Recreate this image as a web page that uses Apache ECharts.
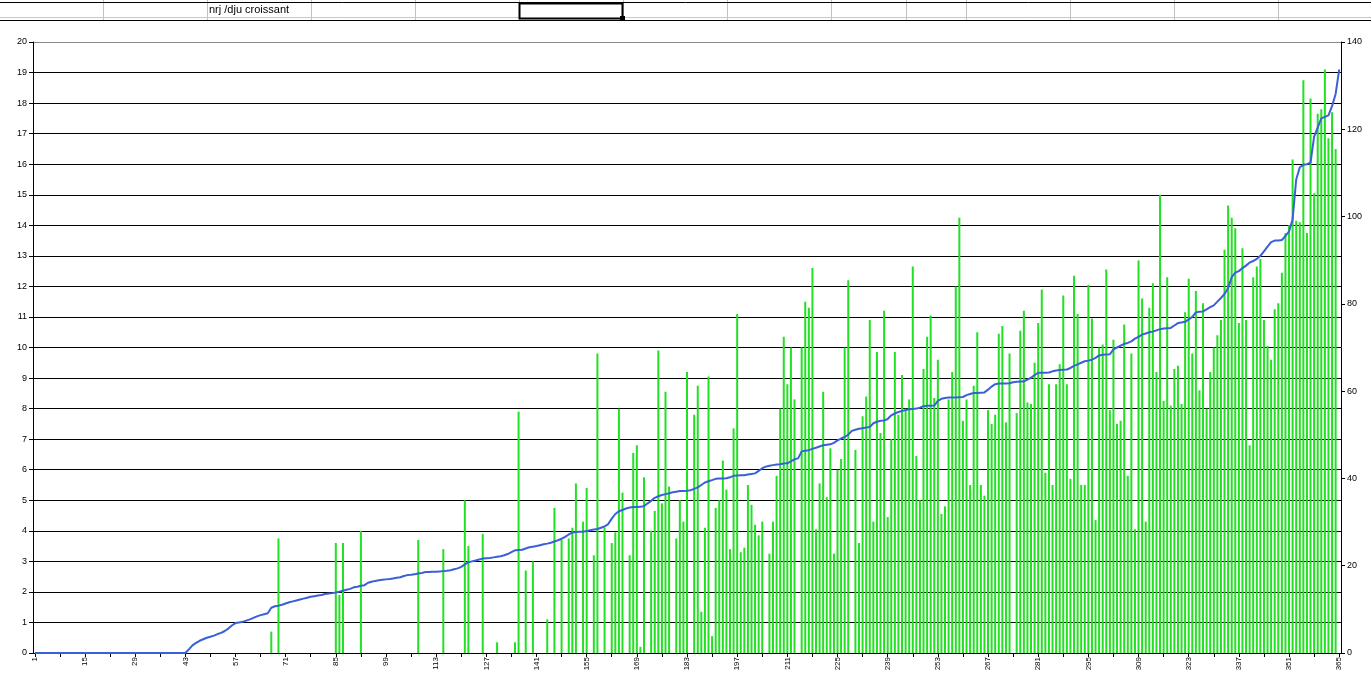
<!DOCTYPE html>
<html>
<head>
<meta charset="utf-8">
<script src="https://cdn.jsdelivr.net/npm/echarts@6/dist/echarts.min.js"></script>
<style>
html,body{margin:0;padding:0;background:#fff;}
#chart{width:1371px;height:688px;}
</style>
</head>
<body>
<div id="chart"></div>
<script>
// Category labels: days 1..365
const days = Array.from({length: 365}, (_, i) => String(i + 1));

// Green bars (left axis units), one value per day
const barValues = [
  0,0,0,0,0,0,0,0,0,0,
  0,0,0,0,0,0,0,0,0,0,
  0,0,0,0,0,0,0,0,0,0,
  0,0,0,0,0,0,0,0,0,0,
  0,0,0,0,0,0,0,0,0,0,
  0,0,0,0,0,0,0,0,0,0,
  0,0,0,0,0,0,0.7,0,3.75,0,
  0,0,0,0,0,0,0,0,0,0,
  0,0,0,0,3.6,1.9,3.6,0,0,0,
  0,4.0,0,0,0,0,0,0,0,0,
  0,0,0,0,0,0,0,3.7,0,0,
  0,0,0,0,3.4,0,0,0,0,0,
  5.0,3.5,0,0,0,3.9,0,0,0,0.35,
  0,0,0,0,0.35,7.9,0,2.7,0,3.0,
  0,0,0,1.1,0,4.75,0,3.7,0,3.75,
  4.1,5.55,0,4.3,5.4,0,3.2,9.8,0,4.1,
  0,3.6,3.95,8.0,5.25,0,3.2,6.55,6.8,0.2,
  5.75,0,4.0,4.65,9.9,4.9,8.55,5.45,0,3.75,
  5.0,4.3,9.2,0,7.8,8.75,1.35,4.1,9.05,0.55,
  4.75,5.0,6.3,5.35,3.4,7.35,11.1,3.3,3.45,5.5,
  4.85,4.2,3.85,4.3,0,3.25,4.3,5.8,8.0,10.35,
  8.8,10.0,8.3,0,10.0,11.5,11.3,12.6,4.05,5.55,
  8.55,5.1,6.7,3.25,6.0,6.35,10.0,12.2,0,6.65,
  3.6,7.75,8.4,10.9,4.3,9.85,7.2,11.2,4.45,7.0,
  9.85,7.8,9.1,8.0,8.3,12.65,6.45,5.0,9.3,10.35,
  11.05,8.35,9.6,4.55,4.8,8.3,9.2,12.0,14.25,7.6,
  8.3,5.5,8.75,10.5,5.5,5.15,7.95,7.5,7.8,10.45,
  10.7,7.55,9.8,0,7.85,10.55,11.2,8.2,8.15,9.5,
  10.8,11.9,5.9,8.8,5.5,8.8,9.45,11.7,8.8,5.7,
  12.35,11.1,5.5,5.5,12.05,10.95,4.35,10.0,10.1,12.55,
  7.95,10.25,7.5,7.6,10.75,5.8,9.8,4.05,12.85,11.6,
  4.3,11.3,12.1,9.2,15.0,8.25,12.3,8.1,9.3,9.4,
  8.15,11.15,12.25,9.8,11.85,8.6,11.45,8.0,9.2,10.0,
  10.4,10.9,13.2,14.65,14.25,13.9,10.8,13.25,10.9,6.8,
  12.3,12.65,12.9,10.9,10.05,9.6,11.25,11.45,12.45,13.75,
  14.0,16.15,14.15,14.1,18.75,13.75,18.15,15.05,17.65,17.8,
  19.1,16.85,17.7,16.5,0
];

// Blue line "nrj /dju croissant" (left axis units), one value per day
const lineValues = [
  0,0,0,0,0,0,0,0,0,0,
  0,0,0,0,0,0,0,0,0,0,
  0,0,0,0,0,0,0,0,0,0,
  0,0,0,0,0,0,0,0,0,0,
  0,0,0,0.12,0.25,0.33,0.4,0.45,0.5,0.53,
  0.57,0.62,0.66,0.72,0.8,0.9,0.98,1.0,1.02,1.06,
  1.1,1.15,1.2,1.24,1.27,1.3,1.48,1.53,1.55,1.58,
  1.62,1.66,1.69,1.72,1.75,1.78,1.81,1.84,1.86,1.88,
  1.9,1.93,1.95,1.96,1.98,2.01,2.04,2.07,2.1,2.15,
  2.17,2.2,2.22,2.3,2.33,2.36,2.38,2.4,2.41,2.42,
  2.44,2.46,2.48,2.52,2.55,2.56,2.58,2.6,2.62,2.65,
  2.65,2.66,2.66,2.67,2.68,2.69,2.71,2.74,2.77,2.82,
  2.9,2.97,3.0,3.03,3.06,3.09,3.1,3.11,3.13,3.15,
  3.17,3.2,3.24,3.3,3.36,3.37,3.38,3.42,3.46,3.48,
  3.5,3.53,3.56,3.58,3.61,3.65,3.69,3.74,3.8,3.88,
  3.94,3.96,3.97,3.97,3.99,4.02,4.04,4.06,4.1,4.14,
  4.22,4.4,4.55,4.64,4.68,4.73,4.76,4.78,4.78,4.79,
  4.8,4.9,4.98,5.08,5.13,5.17,5.2,5.23,5.26,5.28,
  5.3,5.3,5.31,5.33,5.37,5.42,5.5,5.58,5.62,5.66,
  5.7,5.71,5.71,5.72,5.75,5.8,5.81,5.82,5.82,5.84,
  5.86,5.88,5.96,6.05,6.1,6.13,6.15,6.17,6.18,6.2,
  6.21,6.27,6.34,6.37,6.6,6.62,6.64,6.68,6.72,6.76,
  6.8,6.82,6.83,6.88,6.96,7.02,7.07,7.15,7.27,7.31,
  7.34,7.36,7.38,7.4,7.52,7.57,7.6,7.61,7.66,7.78,
  7.84,7.89,7.92,7.95,7.98,7.99,8.0,8.03,8.08,8.09,
  8.09,8.1,8.25,8.32,8.35,8.36,8.36,8.36,8.37,8.38,
  8.44,8.48,8.51,8.51,8.52,8.53,8.62,8.72,8.8,8.82,
  8.82,8.82,8.83,8.86,8.88,8.89,8.89,8.95,9.01,9.1,
  9.17,9.17,9.17,9.18,9.22,9.25,9.26,9.27,9.28,9.33,
  9.4,9.45,9.5,9.55,9.57,9.6,9.66,9.74,9.76,9.77,
  9.78,9.94,10.0,10.06,10.12,10.15,10.2,10.29,10.35,10.42,
  10.46,10.5,10.52,10.56,10.6,10.62,10.63,10.64,10.72,10.8,
  10.82,10.84,10.92,11.0,11.15,11.17,11.18,11.25,11.32,11.38,
  11.5,11.62,11.75,11.95,12.3,12.45,12.5,12.6,12.68,12.78,
  12.83,12.9,13.0,13.15,13.3,13.45,13.5,13.5,13.52,13.65,
  13.8,14.2,15.5,15.9,15.98,16.0,16.05,16.9,17.2,17.5,
  17.55,17.6,17.9,18.3,19.1
];

// Spreadsheet header
const headerTitle = 'nrj /dju croissant';
const columnEdges = [103.5, 207.5, 311.5, 415.5, 519.5, 623.5, 727.5, 831.5, 906.5, 966.5, 1070.5, 1174.5, 1278.5];

const FONT = '"Liberation Sans", Arial, sans-serif';
const chart = echarts.init(document.getElementById('chart'), null, {renderer: 'canvas'});

const graphics = [];
columnEdges.forEach(x => graphics.push({
  type: 'line', shape: {x1: x, y1: 0, x2: x, y2: 20},
  style: {stroke: '#c0c0c0', lineWidth: 1}, silent: true
}));
graphics.push({type: 'line', shape: {x1: 0, y1: 2.5, x2: 1371, y2: 2.5}, style: {stroke: '#000', lineWidth: 1}});
graphics.push({type: 'line', shape: {x1: 0, y1: 17.5, x2: 1371, y2: 17.5}, style: {stroke: '#c8c8c8', lineWidth: 1}});
graphics.push({type: 'line', shape: {x1: 0, y1: 20.5, x2: 1371, y2: 20.5}, style: {stroke: '#000', lineWidth: 1.2}});
graphics.push({type: 'rect', shape: {x: 519.5, y: 3.5, width: 103, height: 15},
  style: {fill: '#fff', stroke: '#000', lineWidth: 2}});
graphics.push({type: 'rect', shape: {x: 620, y: 16, width: 5, height: 5}, style: {fill: '#000'}});
graphics.push({type: 'text', left: 209, top: 4,
  style: {text: headerTitle, font: '11px ' + FONT, fill: '#000'}});

const splitColors = [];
for (let i = 0; i < 20; i++) splitColors.push('#000000');
splitColors.push('#8a8a8a');

chart.setOption({
  animation: false,
  backgroundColor: '#ffffff',
  graphic: graphics,
  grid: {left: 33, right: 30, top: 42, bottom: 35, containLabel: false},
  xAxis: {
    type: 'category',
    data: days,
    boundaryGap: true,
    axisLine: {show: true, lineStyle: {color: '#000', width: 1}},
    axisTick: {show: true, interval: 6, alignWithLabel: true, length: 4, lineStyle: {color: '#000'}},
    axisLabel: {interval: 13, rotate: 90, fontSize: 8, fontFamily: FONT, color: '#000', margin: 4},
    splitLine: {show: false}
  },
  yAxis: [
    {
      type: 'value', min: 0, max: 20, interval: 1, position: 'left',
      axisLine: {show: true, lineStyle: {color: '#000', width: 1}},
      axisTick: {show: true, length: 4, lineStyle: {color: '#000'}},
      axisLabel: {fontSize: 9, fontFamily: FONT, color: '#000', margin: 6},
      splitLine: {show: true, lineStyle: {color: splitColors, width: 1}}
    },
    {
      type: 'value', min: 0, max: 140, interval: 20, position: 'right',
      axisLine: {show: true, lineStyle: {color: '#000', width: 1}},
      axisTick: {show: true, length: 4, lineStyle: {color: '#000'}},
      axisLabel: {fontSize: 9, fontFamily: FONT, color: '#000', margin: 6},
      splitLine: {show: false}
    }
  ],
  series: [
    {
      type: 'bar', name: 'dju', data: barValues, yAxisIndex: 0,
      barWidth: 2,
      itemStyle: {color: '#22e022'},
      z: 2
    },
    {
      type: 'line', name: headerTitle, data: lineValues, yAxisIndex: 0,
      showSymbol: false, symbol: 'none',
      lineStyle: {color: '#3a60d8', width: 2},
      z: 3
    }
  ]
});
</script>
</body>
</html>
